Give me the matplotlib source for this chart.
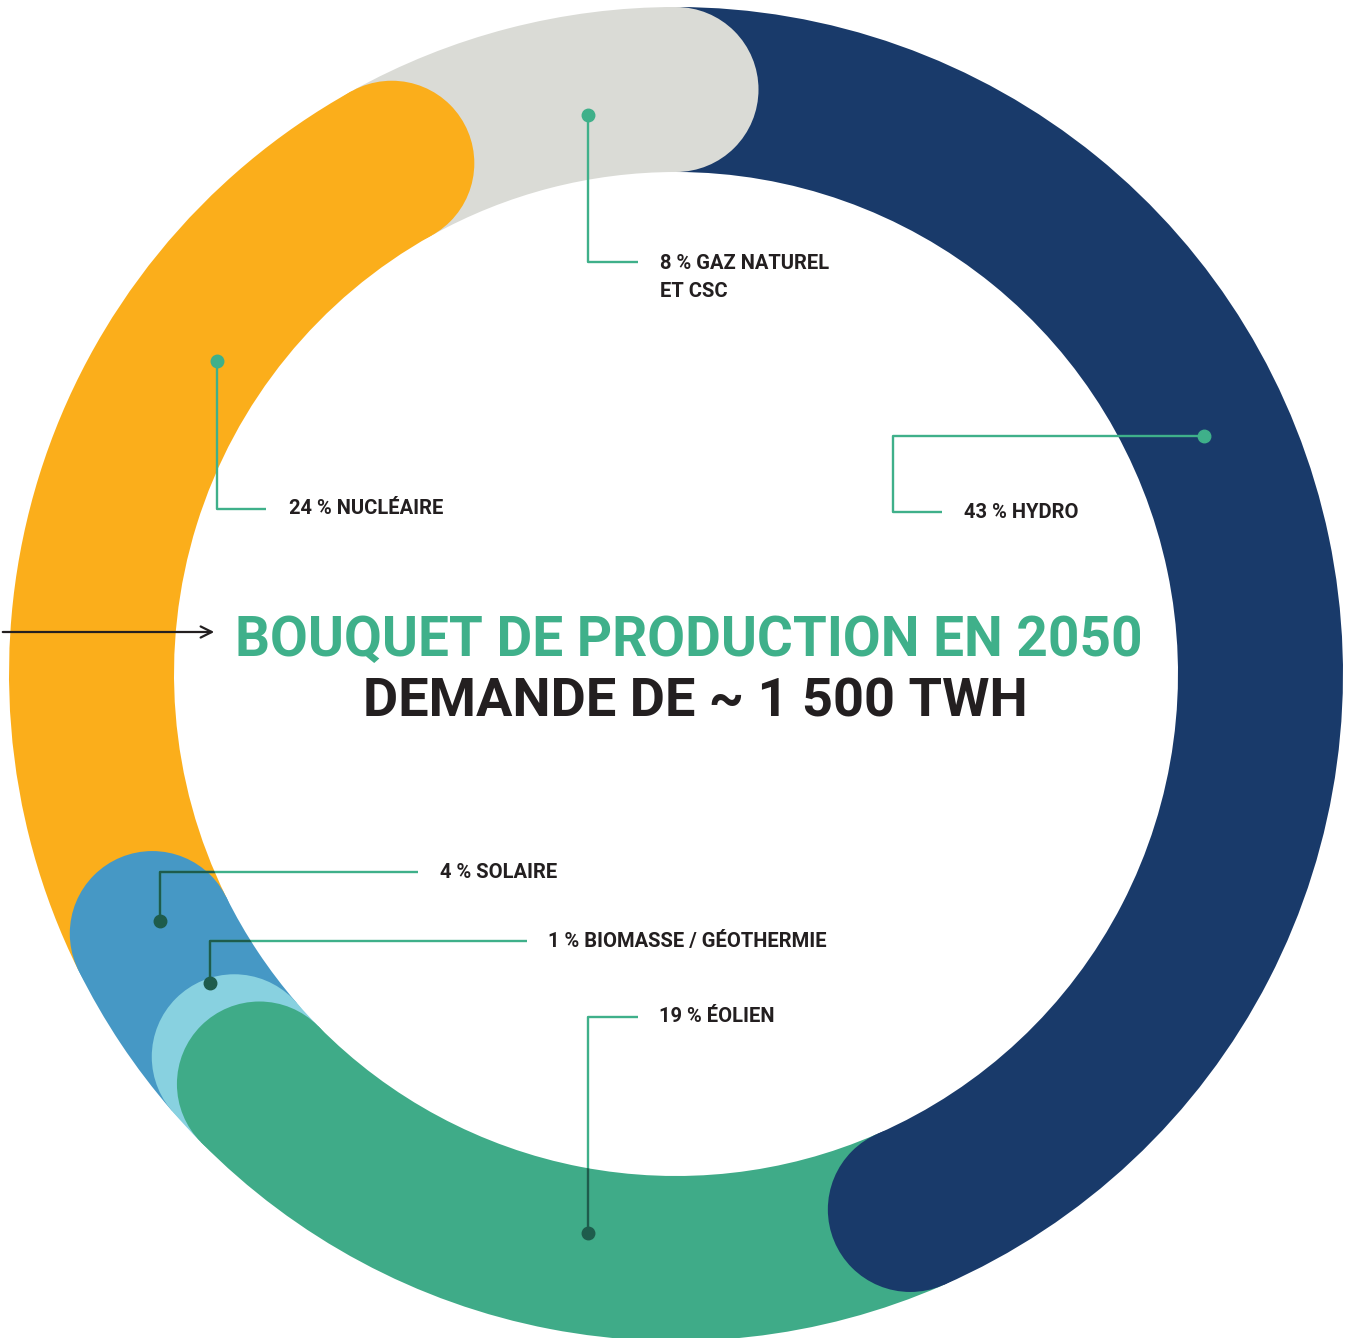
import matplotlib
matplotlib.use("Agg")
import matplotlib.pyplot as plt
from matplotlib.patches import Circle, Wedge
import numpy as np

# mix de production 2050 (%)
labels = ["43 % HYDRO", "19 % ÉOLIEN", "1 % BIOMASSE / GÉOTHERMIE",
          "4 % SOLAIRE", "24 % NUCLÉAIRE", "8 % GAZ NATUREL\nET CSC"]
values = [43, 19, 1, 4, 24, 8]
colors = ["#193a6a", "#3fab88", "#88d1e0", "#4698c5", "#fbae1b", "#dadbd6"]

title1 = "BOUQUET DE PRODUCTION EN 2050"
title2 = "DEMANDE DE ~ 1 500 TWH"

W, H = 1352, 1338
TEAL = "#3fb08a"
DARK = "#1e5c4c"

def main():
    fig = plt.figure(figsize=(W / 100, H / 100), dpi=100)
    ax = fig.add_axes([0, 0, 1, 1])

    cx, cy = 676, H - 674
    r_out, r_in = 667, 502
    ring = r_out - r_in
    wedges, _ = ax.pie(values, colors=colors, startangle=90, counterclock=False,
                       radius=r_out, center=(cx, cy), frame=True,
                       wedgeprops=dict(width=ring, linewidth=0))
    ax.set_xlim(0, W)
    ax.set_ylim(0, H)
    ax.set_aspect("equal")
    ax.axis("off")

    # round caps at the clockwise end of each segment
    r_mid = (r_out + r_in) / 2
    order = [0, 4, 5, 3, 2, 1]
    for i in order:
        w = wedges[i]
        a = np.radians(min(w.theta1, w.theta2))
        ax.add_patch(Circle((cx + r_mid * np.cos(a), cy + r_mid * np.sin(a)),
                            ring / 2, color=colors[i], lw=0, zorder=2))

    # annulus used to darken leader lines sitting on the ring
    annulus = Wedge((cx, cy), r_out, 0, 360, width=ring, transform=ax.transData)

    # leader lines: (points of the polyline), dot colour, text pos
    leaders = [
        ([(1204, 436), (893, 436), (893, 512), (942, 512)], TEAL, (964, 512)),
        ([(588, 1233), (588, 1017), (638, 1017)], DARK, (659, 1017)),
        ([(210, 983), (210, 941), (527, 941)], DARK, (548, 941)),
        ([(160, 921), (160, 872), (418, 872)], DARK, (440, 872)),
        ([(217, 361), (217, 509), (266, 509)], TEAL, (289, 509)),
        ([(588, 115), (588, 262), (638, 262)], TEAL, (660, 262)),
    ]
    for lab, (pts, dc, tpos) in zip(labels, leaders):
        xs = [p[0] for p in pts]
        ys = [H - p[1] for p in pts]
        ax.plot(xs, ys, color=TEAL, lw=1.7, zorder=3, solid_capstyle="butt")
        if dc == DARK:
            ln, = ax.plot(xs, ys, color=DARK, lw=1.7, zorder=3.5,
                          solid_capstyle="butt")
            ln.set_clip_path(annulus)
        ax.plot(xs[0], ys[0], "o", color=dc, ms=9, zorder=4)
        va = "top" if "\n" in lab else "center"
        ty = H - tpos[1] + (8 if va == "top" else 0)
        ax.text(tpos[0], ty, lab, fontsize=14.5, fontweight="bold", color="#231f20",
                ha="left", va=va, family="Roboto", linespacing=1.6, zorder=5)

    # centre titles
    ax.text(689, H - 641, title1, fontsize=39.5, fontweight="bold", color=TEAL,
            ha="center", va="center", family="Roboto", zorder=5)
    ax.text(695, H - 702, title2, fontsize=39, fontweight="bold", color="#231f20",
            ha="center", va="center", family="Roboto", zorder=5)

    ax.annotate("", xy=(217, H - 632), xytext=(0, H - 632),
                arrowprops=dict(arrowstyle="->,head_length=0.8,head_width=0.4",
                                color="#231f20", lw=1.6), zorder=5)

    plt.savefig("out.png", dpi=100)
    plt.close("all")


if __name__ == '__main__':
    main()
